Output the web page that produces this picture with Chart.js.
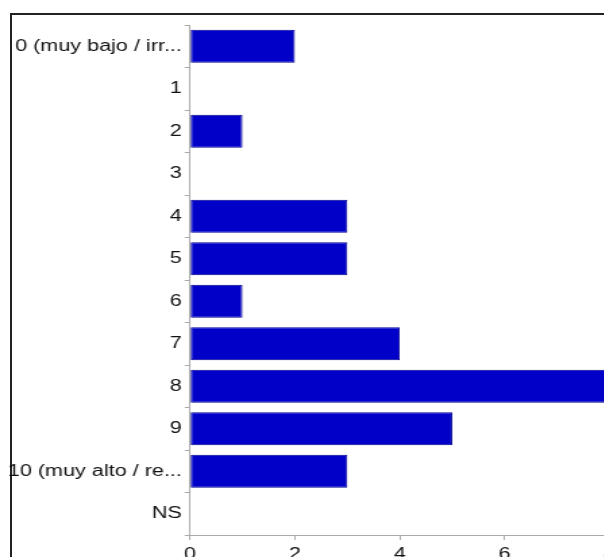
<!DOCTYPE html>
<html>
<head>
<meta charset="utf-8">
<script src="https://cdn.jsdelivr.net/npm/chart.js@4/dist/chart.umd.min.js"></script>
<style>
  html, body { margin: 0; padding: 0; background: #fff; overflow: hidden; width: 604px; height: 557px; }
  #frame { position: absolute; left: 10px; top: 13px; width: 700px; height: 700px; border-top: 2px solid #222; border-left: 2px solid #222; }
  #wrap { position: absolute; left: 0; top: 0; width: 470px; height: 580px; transform: scaleX(1.35); transform-origin: 0 0; }
</style>
</head>
<body>
<div id="frame"></div>
<div id="wrap"><canvas id="chart" width="470" height="580"></canvas></div>
<script>
// ===== data =====
const categories = [
  '0 (muy bajo / irr...', '1', '2', '3', '4', '5', '6', '7', '8', '9',
  '10 (muy alto / re...', 'NS'
];
const counts = [2, 0, 1, 0, 3, 3, 1, 4, 8, 5, 3, 0];
const xTicks = [0, 2, 4, 6, 8];

const STRETCH = 1.35;            // the reference is stretched horizontally
const plotLeft = 190 / STRETCH;  // y axis position in canvas px
const plotRight = 609.5 / STRETCH;

Chart.defaults.font.family = "'Liberation Sans', Arial, sans-serif";
Chart.defaults.color = '#1a1a1a';

new Chart(document.getElementById('chart'), {
  type: 'bar',
  data: {
    labels: categories,
    datasets: [{
      data: counts,
      backgroundColor: '#0000c8',
      borderColor: '#000096',
      borderWidth: 1,
      borderSkipped: false,
      barPercentage: 0.78,
      categoryPercentage: 1
    }]
  },
  options: {
    indexAxis: 'y',
    responsive: false,
    animation: false,
    devicePixelRatio: 1,
    layout: { padding: { top: 25, right: 470 - plotRight, left: 0, bottom: 0 } },
    plugins: { legend: { display: false }, tooltip: { enabled: false } },
    scales: {
      x: {
        min: 0,
        max: 8,
        afterBuildTicks: (scale) => { scale.ticks = xTicks.map(v => ({ value: v })); },
        afterFit: (scale) => { scale.height = 45; },
        grid: { drawOnChartArea: false, color: '#aaa', tickLength: 5 },
        border: { color: '#aaa' },
        ticks: { font: { size: 16 }, color: '#111', padding: 5, maxRotation: 0 }
      },
      y: {
        afterFit: (scale) => { scale.width = plotLeft; },
        grid: { drawOnChartArea: false, color: '#aaa', tickLength: 4 },
        border: { color: '#aaa' },
        ticks: { font: { size: 16 }, color: '#111', padding: 2, autoSkip: false }
      }
    }
  }
});
</script>
</body>
</html>
